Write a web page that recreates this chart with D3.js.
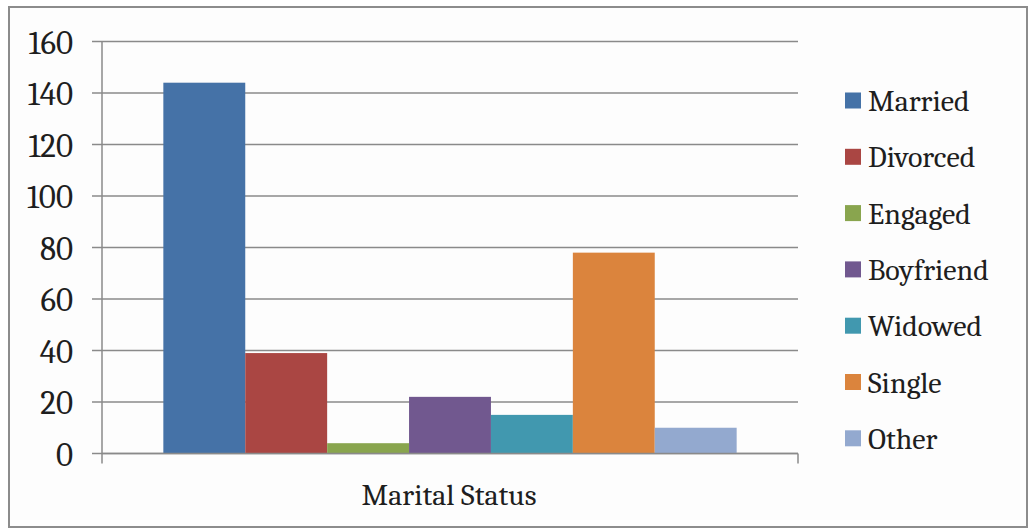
<!DOCTYPE html>
<html>
<head>
<meta charset="utf-8">
<script src="https://cdn.jsdelivr.net/npm/d3@7"></script>
<style>
  body { margin: 0; background: #fff; }
</style>
</head>
<body>
<div id="chart"></div>
<script>
// === data ===
var categories = ["Marital Status"];
var seriesNames = ["Married", "Divorced", "Engaged", "Boyfriend", "Widowed", "Single", "Other"];
var seriesValues = [144, 39, 4, 22, 15, 78, 10];
var seriesColors = ["#4572a7", "#aa4643", "#89a54e", "#71588f", "#4198af", "#db843d", "#93a9cf"];
var yTicks = [0, 20, 40, 60, 80, 100, 120, 140, 160];

// === chart ===
var width = 1029, height = 529;
var margin = { left: 102, right: 231, top: 41.5, bottom: 75.5 };
var fontName = "'Caladea'";
var textColor = "#1e1e1e";

var svg = d3.select("#chart").append("svg")
    .attr("width", width)
    .attr("height", height);

// outer frame
svg.append("rect")
    .attr("x", 9).attr("y", 7)
    .attr("width", 1018).attr("height", 520)
    .attr("fill", "#fdfdfd")
    .attr("stroke", "#8c8c8c")
    .attr("stroke-width", 2);

var y = d3.scaleLinear()
    .domain([0, 160])
    .range([height - margin.bottom, margin.top]);

var x0 = d3.scaleBand()
    .domain(categories)
    .range([margin.left, width - margin.right])
    .paddingInner(0)
    .paddingOuter(0.107);

var x1 = d3.scaleBand()
    .domain(seriesNames)
    .range([0, x0.bandwidth()]);

// gridlines
svg.append("g")
    .selectAll("line")
    .data(yTicks)
    .enter()
    .append("line")
    .attr("x1", margin.left - 10)
    .attr("x2", width - margin.right)
    .attr("y1", function (d) { return y(d); })
    .attr("y2", function (d) { return y(d); })
    .attr("stroke", "#8a8a8a")
    .attr("stroke-width", 1.5);

// y axis (labels only, line drawn separately)
var yAxis = svg.append("g")
    .attr("transform", "translate(" + (margin.left - 29) + ",0)")
    .call(d3.axisLeft(y).tickValues(yTicks).tickSize(0).tickPadding(0));
yAxis.attr("font-family", null);
yAxis.select(".domain").remove();
yAxis.selectAll("text")
    .attr("dy", "0.35em")
    .style("font-family", fontName)
    .style("font-size", "33px")
    .attr("fill", textColor);

// bars
svg.append("g")
    .selectAll("g")
    .data(categories)
    .enter()
    .append("g")
    .attr("transform", function (d) { return "translate(" + x0(d) + ",0)"; })
    .selectAll("rect")
    .data(seriesNames.map(function (n, i) { return { name: n, value: seriesValues[i], color: seriesColors[i] }; }))
    .enter()
    .append("rect")
    .attr("x", function (d) { return x1(d.name); })
    .attr("width", x1.bandwidth())
    .attr("y", function (d) { return y(d.value); })
    .attr("height", function (d) { return y(0) - y(d.value); })
    .attr("fill", function (d) { return d.color; });

// axis lines
var axisColor = "#8a8a8a";
svg.append("line")
    .attr("x1", margin.left).attr("x2", margin.left)
    .attr("y1", y(160)).attr("y2", y(0) + 10)
    .attr("stroke", axisColor).attr("stroke-width", 1.5);
svg.append("line")
    .attr("x1", margin.left).attr("x2", width - margin.right)
    .attr("y1", y(0)).attr("y2", y(0))
    .attr("stroke", axisColor).attr("stroke-width", 1.5);
svg.append("line")
    .attr("x1", width - margin.right).attr("x2", width - margin.right)
    .attr("y1", y(0)).attr("y2", y(0) + 10)
    .attr("stroke", axisColor).attr("stroke-width", 1.5);

// category label
svg.append("text")
    .attr("x", 449)
    .attr("y", 505)
    .attr("text-anchor", "middle")
    .style("font-family", fontName)
    .style("font-size", "30px")
    .attr("fill", textColor)
    .text(categories[0]);

// legend
var legend = svg.append("g")
    .selectAll("g")
    .data(seriesNames)
    .enter()
    .append("g")
    .attr("transform", function (d, i) { return "translate(845," + (100.5 + i * 56.3) + ")"; });
legend.append("rect")
    .attr("x", 0).attr("y", -8)
    .attr("width", 16).attr("height", 16)
    .attr("fill", function (d, i) { return seriesColors[i]; });
legend.append("text")
    .attr("x", 23)
    .attr("dy", "0.35em")
    .style("font-family", fontName)
    .style("font-size", "30px")
    .attr("fill", textColor)
    .text(function (d) { return d; });
</script>
</body>
</html>
